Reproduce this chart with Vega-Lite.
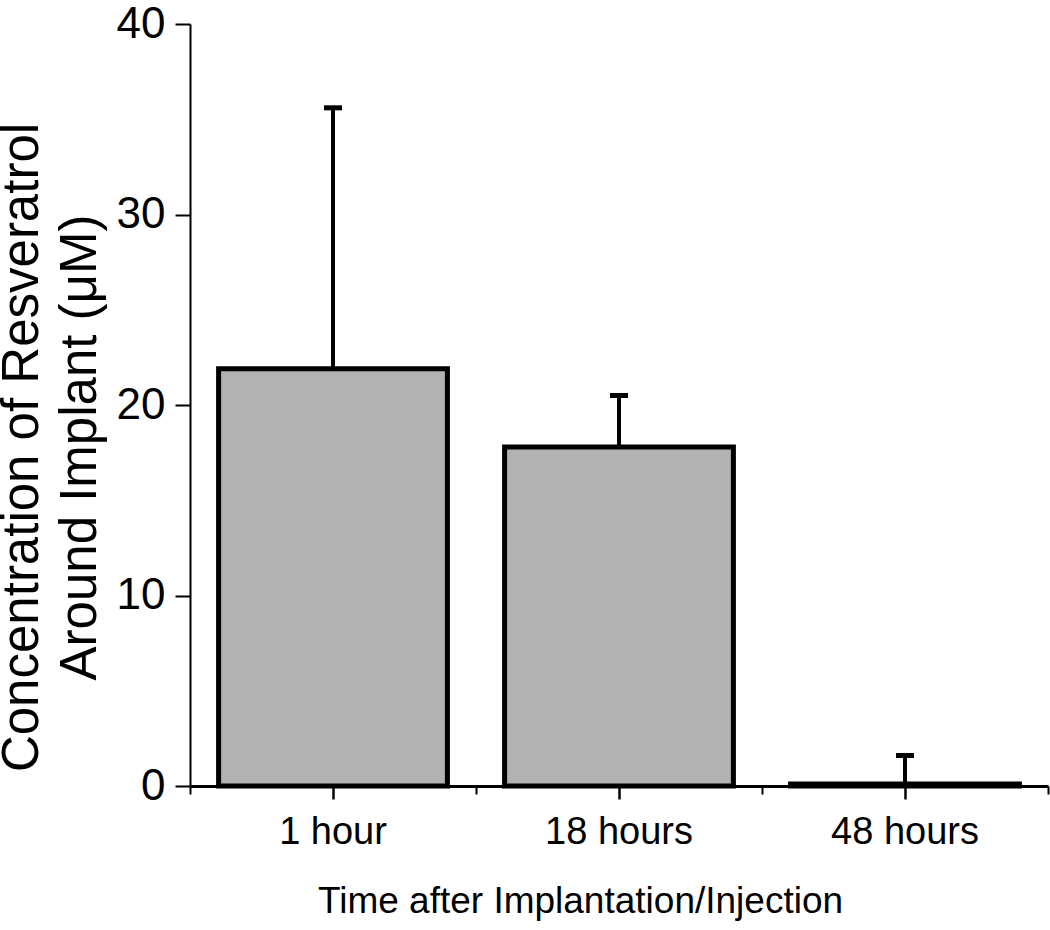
{
  "$schema": "https://vega.github.io/schema/vega-lite/v6.json",
  "autosize": {"type": "none"},
  "padding": {"left": 190, "top": 24, "right": 2, "bottom": 144},
  "width": 858,
  "height": 762,
  "background": "white",
  "config": {"view": {"stroke": null}, "axis": {"grid": false}},
  "data": {"values": [
    {"time": "1 hour", "conc": 21.9, "upper": 35.6},
    {"time": "18 hours", "conc": 17.8, "upper": 20.5},
    {"time": "48 hours", "conc": 0.1, "upper": 1.6}
  ]},
  "resolve": {"axis": {"x": "independent"}},
  "layer": [
    {
      "mark": {"type": "rule", "color": "black", "strokeWidth": 4},
      "encoding": {
        "x": {"field": "time", "type": "nominal", "sort": null,
              "scale": {"paddingInner": 0.2, "paddingOuter": 0.1},
              "axis": {"orient": "bottom", "bandPosition": -0.125, "labels": false, "domain": false, "title": null, "ticks": true, "tickSize": 8, "tickWidth": 2, "tickColor": "black"}},
        "y": {"field": "conc", "type": "quantitative"},
        "y2": {"field": "upper"}
      }
    },
    {
      "mark": {"type": "tick", "color": "black", "opacity": 1, "thickness": 5, "size": 18},
      "encoding": {
        "x": {"field": "time", "type": "nominal", "sort": null,
              "axis": {"orient": "bottom", "bandPosition": 1.125, "labels": false, "domain": false, "title": null, "ticks": true, "tickSize": 8, "tickWidth": 2, "tickColor": "black", "values": ["48 hours"]}},
        "y": {"field": "upper", "type": "quantitative"}
      }
    },
    {
      "mark": {"type": "bar", "fill": "#b2b2b2", "stroke": "black", "strokeWidth": 5},
      "encoding": {
        "x": {"field": "time", "type": "nominal", "sort": null,
              "axis": {"orient": "bottom", "title": "Time after Implantation/Injection", "labelAngle": 0,
                       "labelFont": "Liberation Sans", "labelFontSize": 38, "labelColor": "black", "labelPadding": 14,
                       "titleFont": "Liberation Sans", "titleFontSize": 37, "titleFontWeight": "normal", "titleColor": "black", "titlePadding": 32,
                       "titleX": 390, "titleAlign": "center",
                       "domainColor": "black", "domainWidth": 3, "tickColor": "black", "tickWidth": 2.5, "tickSize": 13}},
        "y": {"field": "conc", "type": "quantitative",
              "scale": {"domain": [0, 40], "nice": false},
              "axis": {"values": [0, 10, 20, 30, 40], "tickSize": 15, "tickWidth": 2, "tickColor": "black",
                       "domainColor": "black", "domainWidth": 2,
                       "labelFont": "Liberation Sans", "labelFontSize": 44, "labelColor": "black", "labelPadding": 10,
                       "title": ["Concentration of Resveratrol", "Around Implant (μM)"],
                       "titleFont": "Liberation Sans", "titleFontSize": 51, "titleFontWeight": "normal", "titleColor": "black",
                       "titleLineHeight": 58, "titleAngle": -90, "titleAlign": "center", "titleBaseline": "alphabetic",
                       "titleX": -153, "titleY": 423}}
      }
    }
  ]
}
